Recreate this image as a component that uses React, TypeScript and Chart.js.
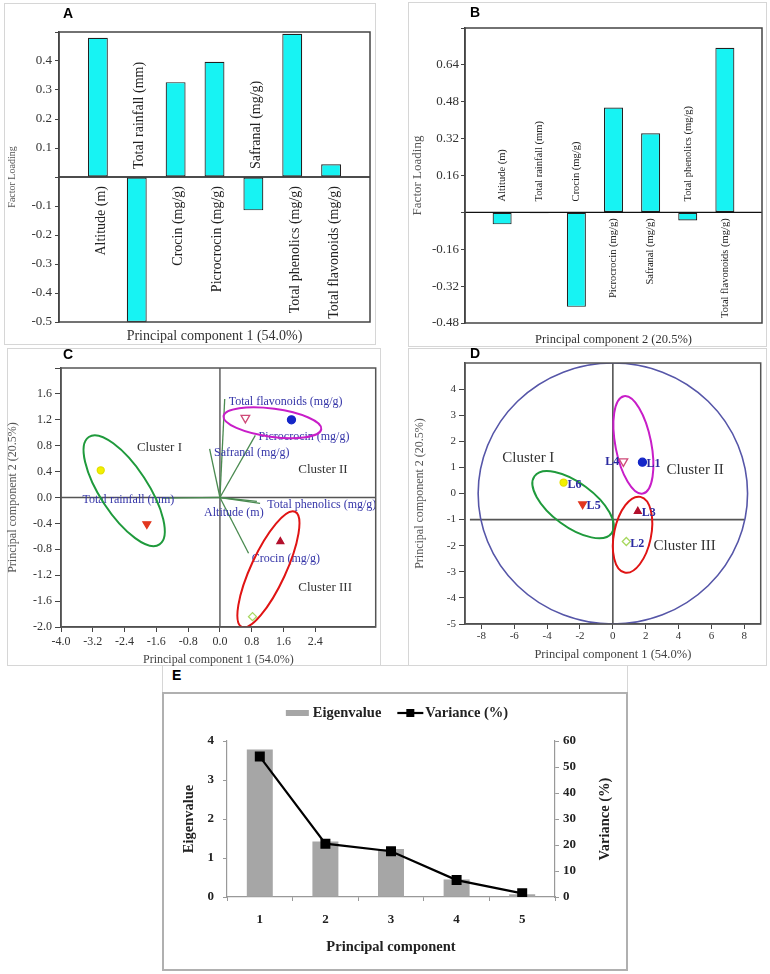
import React, { useEffect, useRef } from 'react';
import { Chart, registerables } from 'chart.js';
Chart.register(...registerables);

const SERIF = '"Liberation Serif", "Times New Roman", Times, serif';
const SANS = '"Liberation Sans", Arial, Helvetica, sans-serif';

// ---------- Panels A & B: factor loadings ----------
const variables = ['Altitude (m)', 'Total rainfall (mm)', 'Crocin (mg/g)', 'Picrocrocin (mg/g)', 'Safranal (mg/g)', 'Total phenolics (mg/g)', 'Total flavonoids (mg/g)'];
const loadingsPC1 = [0.48, -0.5, 0.327, 0.397, -0.115, 0.494, 0.044];
const loadingsPC2 = [-0.052, -0.004, -0.41, 0.455, 0.343, -0.035, 0.714];

// ---------- Panel C: biplot vectors ----------
const vectorEndX = [0.93, -1.45, 0.72, 0.89, -0.26, 1.01, 0.12];
const vectorEndY = [-0.06, -0.01, -0.86, 0.96, 0.75, -0.09, 1.52];
const vectorLabelX = [-0.4, -3.46, 0.8, 0.97, -0.15, 1.19, 0.22];
const vectorLabelY = [-0.23, -0.035, -0.94, 0.93, 0.685, -0.11, 1.48];
const tickValuesCX = [-4.0, -3.2, -2.4, -1.6, -0.8, 0.0, 0.8, 1.6, 2.4];

// ---------- Panels C & D: sample scores ----------
const samples = ['L6', 'L5', 'L4', 'L1', 'L3', 'L2'];
const scoreX = [-3.0, -1.84, 0.64, 1.8, 1.52, 0.82];
const scoreY = [0.42, -0.41, 1.23, 1.2, -0.68, -1.84];

const clusters = ['Cluster I', 'Cluster II', 'Cluster III'];
const clusterLabelXC = [-2.09, 1.97, 1.97];
const clusterLabelYC = [0.77, 0.425, -1.385];
const clusterLabelXD = [-6.73, 3.27, 2.48];
const clusterLabelYD = [1.37, 0.9, -2.0];

// ellipses: centre, major-axis tip, minor-axis tip (data units)
const ellipseCenterXC = [-2.41, 1.32, 1.22];
const ellipseCenterYC = [0.105, 1.155, -1.11];
const ellipseMajorXC = [-3.3, 2.55, 1.89];
const ellipseMajorYC = [0.935, 1.054, -0.22];
const ellipseMinorXC = [-1.91, 1.27, 1.62];
const ellipseMinorYC = [0.31, 0.94, -1.22];

const ellipseCenterXD = [-2.42, 1.25, 1.2];
const ellipseCenterYD = [-0.43, 1.865, -1.58];
const ellipseMajorXD = [-0.07, 0.67, 1.68];
const ellipseMajorYD = [-1.52, 3.73, -0.13];
const ellipseMinorXD = [-1.64, 2.32, 2.3];
const ellipseMinorYD = [0.25, 2.0, -1.73];

const circleD = [0, 0, 8.2, 0, 0, 5]; // cx, cy, major tip x, y, minor tip x, y
const refLineYD = -1;
const refLineSpanD = [-8.7, 8.0];
const tickValuesDX = [-8, -6, -4, -2, 0, 2, 4, 6, 8];
const tickValuesDY = [-5, -4, -3, -2, -1, 0, 1, 2, 3, 4];

// ---------- Panel E: scree ----------
const components = ['1', '2', '3', '4', '5'];
const eigenvalues = [3.78, 1.42, 1.23, 0.45, 0.07];
const variancePct = [54.0, 20.5, 17.6, 6.5, 1.4];

// ---------- styles ----------
const clusterColors = ['#1f9a3c', '#c81ec8', '#e01414'];
const pointStyles = [
  { style: 'circle', r: 3.5, bg: '#f2f000', bd: '#e4e000', rot: 0 },
  { style: 'triangle', r: 4.5, bg: '#e2361e', bd: '#e2361e', rot: 180 },
  { style: 'triangle', r: 5, bg: '#ffffff', bd: '#cf4a78', rot: 180 },
  { style: 'circle', r: 4, bg: '#1426c8', bd: '#1426c8', rot: 0 },
  { style: 'triangle', r: 4, bg: '#b3102c', bd: '#b3102c', rot: 0 },
  { style: 'rectRot', r: 4, bg: '#ffffff', bd: '#a8d860', rot: 0 },
];

function strokeEllipse(chart: any, cx: number, cy: number, ax: number, ay: number, bx: number, by: number, color: string, width: number) {
  const { ctx, scales: { x, y } } = chart;
  const c = [x.getPixelForValue(cx), y.getPixelForValue(cy)];
  const u = [x.getPixelForValue(ax) - c[0], y.getPixelForValue(ay) - c[1]];
  const v = [x.getPixelForValue(bx) - c[0], y.getPixelForValue(by) - c[1]];
  ctx.beginPath();
  ctx.save();
  ctx.transform(u[0], u[1], v[0], v[1], c[0], c[1]);
  ctx.arc(0, 0, 1, 0, Math.PI * 2);
  ctx.restore();
  ctx.strokeStyle = color;
  ctx.lineWidth = width;
  ctx.stroke();
}

function barLabelPlugin(values: number[], fontSize: number, gapAbove: number, gapBelow: number, dx: number) {
  return {
    id: 'barLabels',
    afterDatasetsDraw(chart: any) {
      const { ctx, scales: { x, y }, chartArea: a } = chart;
      const y0 = y.getPixelForValue(0);
      ctx.save();
      ctx.strokeStyle = '#111';
      ctx.lineWidth = 1.3;
      ctx.beginPath(); ctx.moveTo(a.left, y0); ctx.lineTo(a.right, y0); ctx.stroke();
      ctx.strokeStyle = '#444';
      ctx.lineWidth = 1.5;
      ctx.strokeRect(a.left, a.top, a.right - a.left, a.bottom - a.top);
      ctx.fillStyle = '#222';
      ctx.font = `${fontSize}px ${SERIF}`;
      ctx.textBaseline = 'middle';
      variables.forEach((n, i) => {
        const xp = x.getPixelForValue(i + 1) + dx;
        ctx.save();
        if (values[i] >= 0) {
          ctx.translate(xp, y0 + gapBelow); ctx.rotate(-Math.PI / 2); ctx.textAlign = 'right';
        } else {
          ctx.translate(xp, y0 - gapAbove); ctx.rotate(-Math.PI / 2); ctx.textAlign = 'left';
        }
        ctx.fillText(n, 0, 0);
        ctx.restore();
      });
      ctx.restore();
    },
  };
}

function loadingConfig(values: number[], opts: any) {
  return {
    type: 'bar',
    data: {
      labels: ['', ...variables, ''],
      datasets: [{
        data: [null, ...values, null],
        backgroundColor: '#17f3f3',
        borderColor: '#222',
        borderWidth: 1.2,
        borderSkipped: false,
        barPercentage: 0.64,
        categoryPercentage: 0.8,
      }],
    },
    options: {
      responsive: false,
      animation: false,
      layout: { padding: { top: opts.padTop, right: opts.padRight, left: 0, bottom: 0 } },
      plugins: { legend: { display: false }, tooltip: { enabled: false } },
      scales: {
        x: {
          offset: false,
          grid: { display: false },
          border: { display: false },
          ticks: { display: false },
          title: { display: true, text: opts.xTitle, color: '#333', font: { family: SERIF, size: opts.xTitleSize }, padding: 0 },
          afterFit: (s: any) => { s.height = opts.xHeight; },
        },
        y: {
          min: opts.min, max: opts.max,
          ticks: {
            stepSize: opts.step,
            color: '#333',
            padding: opts.tickPad,
            font: { family: SERIF, size: 13 },
            callback: (v: number) => (Math.abs(v) < 1e-9 || v > opts.max - 1e-6) ? '' : v.toFixed(opts.decimals),
          },
          grid: { drawOnChartArea: false, tickLength: opts.tickLen, color: '#444' },
          border: { color: '#444', width: 1.5 },
          title: { display: true, text: opts.yTitle, color: '#555', font: { family: SERIF, size: opts.yTitleSize }, padding: { top: opts.yTitlePad, bottom: 0 } },
          afterFit: (s: any) => { s.width = opts.yWidth; },
        },
      },
    },
    plugins: [barLabelPlugin(values, opts.labelSize, opts.gapAbove, opts.gapBelow, opts.dx)],
  };
}

function scatterDatasets() {
  return samples.map((s, i) => ({
    label: s,
    data: [{ x: scoreX[i], y: scoreY[i] }],
    pointStyle: pointStyles[i].style,
    pointRadius: pointStyles[i].r,
    pointRotation: pointStyles[i].rot,
    pointBackgroundColor: pointStyles[i].bg,
    pointBorderColor: pointStyles[i].bd,
    pointBorderWidth: 1.3,
  }));
}

function configC() {
  return {
    type: 'scatter',
    data: { datasets: scatterDatasets() },
    options: {
      responsive: false,
      animation: false,
      layout: { padding: { top: 21, right: 4, left: 0, bottom: 0 } },
      plugins: { legend: { display: false }, tooltip: { enabled: false } },
      scales: {
        x: {
          type: 'linear', min: -4, max: 3.92,
          afterBuildTicks: (s: any) => { s.ticks = tickValuesCX.map((v) => ({ value: v })); },
          ticks: {
            color: '#333', padding: 3,
            font: { family: SERIF, size: 12 },
            callback: (v: number) => (Math.abs(v) < 1e-9 ? '0.0' : v.toFixed(1)),
          },
          grid: { drawOnChartArea: false, tickLength: 5, color: '#444' },
          border: { color: '#444', width: 1.5 },
          title: { display: true, text: 'Principal component 1 (54.0%)', color: '#444', font: { family: SERIF, size: 12 }, padding: 0 },
          afterFit: (s: any) => { s.height = 40; },
        },
        y: {
          min: -2, max: 2,
          ticks: {
            stepSize: 0.4, color: '#333', padding: 3,
            font: { family: SERIF, size: 12 },
            callback: (v: number) => v > 1.9 ? '' : (Math.abs(v) < 1e-9 ? '0.0' : v.toFixed(1)),
          },
          grid: { drawOnChartArea: false, tickLength: 6, color: '#444' },
          border: { color: '#444', width: 1.5 },
          title: { display: true, text: 'Principal component 2 (20.5%)', color: '#555', font: { family: SERIF, size: 12 }, padding: { top: 2, bottom: 0 } },
          afterFit: (s: any) => { s.width = 57; },
        },
      },
    },
    plugins: [{
      id: 'biplotC',
      beforeDatasetsDraw(chart: any) {
        const { ctx, chartArea: a, scales: { x, y } } = chart;
        const x0 = x.getPixelForValue(0), y0 = y.getPixelForValue(0);
        ctx.save();
        ctx.strokeStyle = '#555'; ctx.lineWidth = 1.4;
        ctx.beginPath();
        ctx.moveTo(x0, a.top); ctx.lineTo(x0, a.bottom);
        ctx.moveTo(a.left, y0); ctx.lineTo(a.right, y0);
        ctx.stroke();
        ctx.strokeStyle = '#4a8a50'; ctx.lineWidth = 1.3;
        vectorEndX.forEach((vx, i) => {
          ctx.beginPath();
          ctx.moveTo(x0, y0);
          ctx.lineTo(x.getPixelForValue(vx), y.getPixelForValue(vectorEndY[i]));
          ctx.stroke();
        });
        ctx.fillStyle = '#3535a8';
        ctx.font = `12px ${SERIF}`;
        ctx.textBaseline = 'middle'; ctx.textAlign = 'left';
        variables.forEach((n, i) => {
          ctx.fillText(n, x.getPixelForValue(vectorLabelX[i]), y.getPixelForValue(vectorLabelY[i]));
        });
        ctx.restore();
      },
      afterDatasetsDraw(chart: any) {
        const { ctx, chartArea: a, scales: { x, y } } = chart;
        ctx.save();
        ctx.beginPath(); ctx.rect(a.left, a.top, a.right - a.left, a.bottom - a.top); ctx.clip();
        clusters.forEach((_, i) => strokeEllipse(chart, ellipseCenterXC[i], ellipseCenterYC[i], ellipseMajorXC[i], ellipseMajorYC[i], ellipseMinorXC[i], ellipseMinorYC[i], clusterColors[i], 2));
        ctx.restore();
        ctx.save();
        ctx.fillStyle = '#333';
        ctx.font = `13px ${SERIF}`;
        ctx.textBaseline = 'middle'; ctx.textAlign = 'left';
        clusters.forEach((n, i) => ctx.fillText(n, x.getPixelForValue(clusterLabelXC[i]), y.getPixelForValue(clusterLabelYC[i])));
        ctx.strokeStyle = '#555'; ctx.lineWidth = 1.5;
        ctx.strokeRect(a.left, a.top, a.right - a.left, a.bottom - a.top);
        ctx.restore();
      },
    }],
  };
}

function configD() {
  return {
    type: 'scatter',
    data: { datasets: scatterDatasets() },
    options: {
      responsive: false,
      animation: false,
      layout: { padding: { top: 15, right: 4, left: 0, bottom: 0 } },
      plugins: { legend: { display: false }, tooltip: { enabled: false } },
      scales: {
        x: {
          type: 'linear', min: -9, max: 9,
          afterBuildTicks: (s: any) => { s.ticks = tickValuesDX.map((v) => ({ value: v })); },
          ticks: { color: '#333', padding: 1, font: { family: SERIF, size: 11 } },
          grid: { drawOnChartArea: false, tickLength: 5, color: '#444' },
          border: { color: '#444', width: 1.5 },
          title: { display: true, text: 'Principal component 1 (54.0%)', color: '#444', font: { family: SERIF, size: 12.5 }, padding: { top: 0, bottom: 5 } },
          afterFit: (s: any) => { s.height = 43; },
        },
        y: {
          min: -5, max: 5,
          afterBuildTicks: (s: any) => { s.ticks = tickValuesDY.map((v) => ({ value: v })); },
          ticks: { color: '#333', padding: 3, font: { family: SERIF, size: 11 } },
          grid: { drawOnChartArea: false, tickLength: 6, color: '#444' },
          border: { color: '#444', width: 1.5 },
          title: { display: true, text: 'Principal component 2 (20.5%)', color: '#555', font: { family: SERIF, size: 12 }, padding: { top: 5, bottom: 0 } },
          afterFit: (s: any) => { s.width = 57; },
        },
      },
    },
    plugins: [{
      id: 'scoreD',
      beforeDatasetsDraw(chart: any) {
        const { ctx, chartArea: a, scales: { x, y } } = chart;
        ctx.save();
        ctx.strokeStyle = '#555'; ctx.lineWidth = 1.6;
        const x0 = x.getPixelForValue(0);
        const yr = y.getPixelForValue(refLineYD);
        ctx.beginPath();
        ctx.moveTo(x0, a.top); ctx.lineTo(x0, a.bottom);
        ctx.moveTo(x.getPixelForValue(refLineSpanD[0]), yr); ctx.lineTo(x.getPixelForValue(refLineSpanD[1]), yr);
        ctx.stroke();
        ctx.beginPath(); ctx.rect(a.left, a.top, a.right - a.left, a.bottom - a.top); ctx.clip();
        strokeEllipse(chart, circleD[0], circleD[1], circleD[2], circleD[3], circleD[4], circleD[5], '#5656a8', 1.6);
        clusters.forEach((_, i) => strokeEllipse(chart, ellipseCenterXD[i], ellipseCenterYD[i], ellipseMajorXD[i], ellipseMajorYD[i], ellipseMinorXD[i], ellipseMinorYD[i], clusterColors[i], 2));
        ctx.restore();
      },
      afterDatasetsDraw(chart: any) {
        const { ctx, chartArea: a, scales: { x, y } } = chart;
        ctx.save();
        ctx.fillStyle = '#2a2aa0';
        ctx.font = `bold 12px ${SERIF}`;
        ctx.textBaseline = 'middle';
        samples.forEach((s, i) => {
          const px = x.getPixelForValue(scoreX[i]);
          const py = y.getPixelForValue(scoreY[i]);
          if (s === 'L4') { ctx.textAlign = 'right'; ctx.fillText(s, px - 4, py + 1); }
          else { ctx.textAlign = 'left'; ctx.fillText(s, px + 4, py + 2); }
        });
        ctx.fillStyle = '#333';
        ctx.font = `15px ${SERIF}`;
        ctx.textAlign = 'left';
        clusters.forEach((n, i) => ctx.fillText(n, x.getPixelForValue(clusterLabelXD[i]), y.getPixelForValue(clusterLabelYD[i])));
        ctx.strokeStyle = '#555'; ctx.lineWidth = 1.5;
        ctx.strokeRect(a.left, a.top, a.right - a.left, a.bottom - a.top);
        ctx.restore();
      },
    }],
  };
}

function configE() {
  const tickFont = { family: SERIF, size: 13, weight: 'bold' as const };
  return {
    type: 'bar',
    data: {
      labels: components,
      datasets: [
        { type: 'line', label: 'Variance (%)', data: variancePct, yAxisID: 'y2', borderColor: '#000', borderWidth: 2.2, pointStyle: 'rect', pointRadius: 5.5, pointBackgroundColor: '#000', pointBorderColor: '#000', order: 0 },
        { type: 'bar', label: 'Eigenvalue', data: eigenvalues, yAxisID: 'y', backgroundColor: '#a6a6a6', barPercentage: 0.495, categoryPercentage: 0.8, order: 1 },
      ],
    },
    options: {
      responsive: false,
      animation: false,
      layout: { padding: { top: 49, right: 0, left: 0, bottom: 0 } },
      plugins: { legend: { display: false }, tooltip: { enabled: false } },
      scales: {
        x: {
          grid: { drawOnChartArea: false, tickLength: 4, color: '#999' },
          border: { color: '#999', width: 1.2 },
          ticks: { color: '#222', padding: 11, font: tickFont },
          title: { display: true, text: 'Principal component', color: '#222', font: { family: SERIF, size: 14.5, weight: 'bold' }, padding: { top: 0, bottom: 14 } },
          afterFit: (s: any) => { s.height = 73; },
        },
        y: {
          position: 'left', min: 0, max: 4,
          ticks: { stepSize: 1, color: '#222', padding: 9, font: tickFont },
          grid: { drawOnChartArea: false, tickLength: 4, color: '#999' },
          border: { color: '#999', width: 1.2 },
          title: { display: true, text: 'Eigenvalue', color: '#222', font: { family: SERIF, size: 14.5, weight: 'bold' }, padding: { top: 19, bottom: 0 } },
          afterFit: (s: any) => { s.width = 65; },
        },
        y2: {
          position: 'right', min: 0, max: 60,
          ticks: { stepSize: 10, color: '#222', padding: 4, font: tickFont },
          grid: { drawOnChartArea: false, tickLength: 4, color: '#999' },
          border: { color: '#999', width: 1.2 },
          afterFit: (s: any) => { s.width = 73; },
        },
      },
    },
    plugins: [{
      id: 'legendE',
      afterDraw(chart: any) {
        const { ctx, chartArea: a } = chart;
        const eig = chart.data.datasets[1];
        const vr = chart.data.datasets[0];
        ctx.save();
        ctx.font = `bold 14.5px ${SERIF}`;
        ctx.textBaseline = 'middle';
        ctx.textAlign = 'left';
        const w1 = ctx.measureText(eig.label).width;
        const w2 = ctx.measureText(vr.label).width;
        const total = 23 + 4 + w1 + 16 + 26 + 2 + w2;
        let x0 = chart.width / 2 + 2 - total / 2;
        const cy = 21;
        ctx.fillStyle = eig.backgroundColor;
        ctx.fillRect(x0, cy - 3, 23, 6);
        x0 += 27;
        ctx.fillStyle = '#222';
        ctx.fillText(eig.label, x0, cy);
        x0 += w1 + 16;
        ctx.strokeStyle = '#000'; ctx.lineWidth = 2.2;
        ctx.beginPath(); ctx.moveTo(x0, cy); ctx.lineTo(x0 + 26, cy); ctx.stroke();
        ctx.fillStyle = '#000';
        ctx.fillRect(x0 + 13 - 4, cy - 4, 8, 8);
        x0 += 28;
        ctx.fillStyle = '#222';
        ctx.fillText(vr.label, x0, cy);
        ctx.save();
        ctx.translate(443, (a.top + a.bottom) / 2);
        ctx.rotate(-Math.PI / 2);
        ctx.textAlign = 'center';
        ctx.fillText('Variance (%)', 0, 0);
        ctx.restore();
        ctx.restore();
      },
    }],
  };
}

function ChartCanvas({ make, left, top, width, height }: any) {
  const ref = useRef<HTMLCanvasElement>(null);
  useEffect(() => {
    const chart = new Chart(ref.current as HTMLCanvasElement, make());
    return () => chart.destroy();
  }, []);
  return <canvas ref={ref} width={width} height={height} style={{ position: 'absolute', left, top, width, height }} />;
}

const frame = (left: number, top: number, width: number, height: number, color = '#d6d6d6', w = 1) => (
  <div style={{ position: 'absolute', left, top, width, height, border: `${w}px solid ${color}`, boxSizing: 'border-box' }} />
);

const letter = (t: string, left: number, top: number) => (
  <div style={{ position: 'absolute', left, top, font: `bold 14px ${SANS}`, lineHeight: '14px', color: '#000' }}>{t}</div>
);

export default function App() {
  return (
    <div style={{ position: 'absolute', left: 0, top: 0, width: 770, height: 974, background: '#fff', overflow: 'hidden' }}>
      {frame(4, 3, 372, 342)}
      {frame(408, 2, 359, 345)}
      {frame(7, 348, 374, 318)}
      {frame(408, 348, 359, 318)}
      {frame(162, 665, 466, 306)}
      {frame(162, 692, 466, 279, '#b0b0b0', 2)}
      <ChartCanvas left={4} top={3} width={372} height={342} make={() => loadingConfig(loadingsPC1, {
        padTop: 29, padRight: 6, xHeight: 23, yWidth: 55, min: -0.5, max: 0.5, step: 0.1, decimals: 1,
        tickPad: 3, tickLen: 4, xTitle: 'Principal component 1 (54.0%)', xTitleSize: 14,
        yTitle: 'Factor Loading', yTitleSize: 10, yTitlePad: 2,
        labelSize: 14, gapAbove: 8, gapBelow: 9, dx: 3,
      })} />
      <ChartCanvas left={408} top={2} width={359} height={345} make={() => loadingConfig(loadingsPC2, {
        padTop: 26, padRight: 5, xHeight: 24, yWidth: 57, min: -0.48, max: 0.8, step: 0.16, decimals: 2,
        tickPad: 2, tickLen: 4, xTitle: 'Principal component 2 (20.5%)', xTitleSize: 12.5,
        yTitle: 'Factor Loading', yTitleSize: 13, yTitlePad: 2,
        labelSize: 10.5, gapAbove: 11, gapBelow: 6, dx: 0,
      })} />
      <ChartCanvas left={4} top={347} width={378} height={320} make={configC} />
      <ChartCanvas left={408} top={348} width={359} height={319} make={configD} />
      <ChartCanvas left={162} top={692} width={466} height={278} make={configE} />
      {letter('A', 63, 6)}
      {letter('B', 470, 5)}
      {letter('C', 63, 347)}
      {letter('D', 470, 346)}
      {letter('E', 172, 668)}
    </div>
  );
}
